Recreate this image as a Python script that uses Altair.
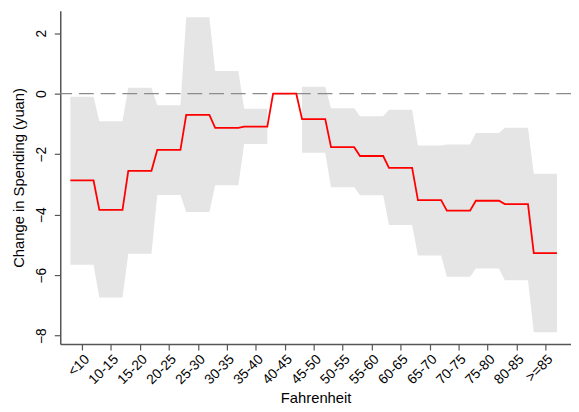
import altair as alt
import pandas as pd

categories = ["<10", "10-15", "15-20", "20-25", "25-30", "30-35", "35-40", "40-45",
              "45-50", "50-55", "55-60", "60-65", "65-70", "70-75", "75-80", "80-85", ">=85"]
coef = [-2.87, -3.84, -2.55, -1.86, -0.70, -1.13, -1.09, 0.0,
        -0.84, -1.77, -2.06, -2.45, -3.52, -3.87, -3.54, -3.65, -5.27]
ci_high = [-0.10, -0.91, 0.20, -0.38, 2.53, 0.75, -0.50, None,
           0.23, -0.48, -0.75, -0.53, -1.71, -1.68, -1.30, -1.13, -2.65]
ci_low = [-5.66, -6.74, -5.29, -3.35, -3.91, -3.03, -1.66, None,
          -1.95, -3.09, -3.36, -4.34, -5.35, -6.05, -5.78, -6.17, -7.89]

half = 0.4
rows = []
part = 0
for i, c in enumerate(categories):
    pos = i + 1
    if ci_low[i] is None:
        part += 1
    for x in (pos - half, pos + half):
        rows.append({"x": x, "coef": coef[i], "lo": ci_low[i], "hi": ci_high[i],
                     "part": part, "has_ci": ci_low[i] is not None, "cat": c})
df = pd.DataFrame(rows)
band_df = df[df["has_ci"]].copy()

label_expr = "[" + ",".join("'" + c + "'" for c in categories) + "][round(datum.value) - 1]"

xscale = alt.Scale(domain=[0.251, 17.885], nice=False, zero=False)
yscale = alt.Scale(domain=[-8.28, 2.74], nice=False, zero=False)

xaxis = alt.Axis(values=list(range(1, len(categories) + 1)), labelExpr=label_expr,
                 labelAngle=-45, labelAlign="right", labelBaseline="top",
                 labelOverlap=False, labelFlush=False, labelSeparation=0,
                 title="Fahrenheit", grid=False, tickSize=6, labelPadding=2,
                 titlePadding=4)
yaxis = alt.Axis(values=[-8, -6, -4, -2, 0, 2], labelAngle=-90, labelAlign="center",
                 labelBaseline="bottom", labelOverlap=False, labelFlush=False,
                 title="Change in Spending (yuan)", grid=False,
                 tickSize=6, labelPadding=6, titlePadding=8)

band = alt.Chart(band_df).mark_area(color="#e5e5e5", opacity=1).encode(
    x=alt.X("x:Q", scale=xscale, axis=xaxis),
    y=alt.Y("lo:Q", scale=yscale, axis=yaxis),
    y2="hi:Q",
    detail="part:N",
)

zero = alt.Chart(pd.DataFrame({"v": [0]})).mark_rule(
    color="#8c8c8c", strokeWidth=1.2, strokeDash=[15, 7]
).encode(y=alt.Y("v:Q", scale=yscale, axis=yaxis))

line = alt.Chart(df).mark_line(color="#ff0000", strokeWidth=1.8).encode(
    x=alt.X("x:Q", scale=xscale, axis=xaxis),
    y=alt.Y("coef:Q", scale=yscale, axis=yaxis),
    order="x:Q",
)

chart = alt.layer(band, zero, line).properties(
    width=518, height=338,
    autosize=alt.AutoSizeParams(type="none"),
    padding={"left": 53, "top": 0, "right": 0, "bottom": 66},
).configure_view(stroke=None).configure_axis(
    labelFont="Liberation Sans", titleFont="Liberation Sans",
    labelFontSize=14, titleFontSize=15, labelColor="#000000", titleColor="#000000",
    titleFontWeight="normal", domainColor="#555555", tickColor="#555555",
    domainWidth=1.5, tickWidth=1.2, labelOverlap=False,
)

chart.save("out.html", embed_options={"renderer": "svg", "actions": False})
